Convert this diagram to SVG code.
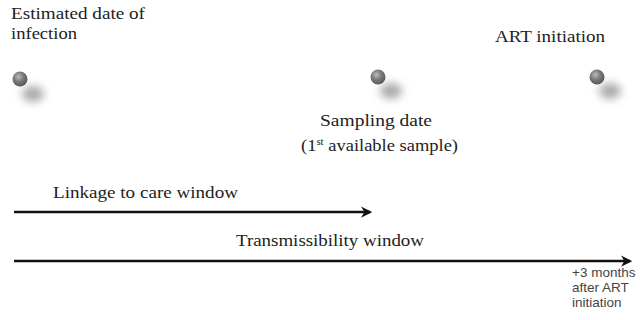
<svg xmlns="http://www.w3.org/2000/svg" width="642" height="320" viewBox="0 0 642 320">
<style>
.t{font-family:"Liberation Serif","DejaVu Serif",serif;font-size:17px;fill:#222}
.s{font-family:"Liberation Sans",Arial,sans-serif;font-size:13.5px;fill:#444}
.ax{stroke:#111;stroke-width:2.5;fill:none}
</style>
<defs>
<radialGradient id="bg" cx="0.4" cy="0.35" r="0.7">
<stop offset="0" stop-color="#bbb"/><stop offset="0.5" stop-color="#777"/><stop offset="1" stop-color="#555"/>
</radialGradient>
<filter id="bl" x="-1" y="-1" width="3" height="3"><feGaussianBlur stdDeviation="4.5"/></filter>
<filter id="bl2" x="-0.1" y="-3" width="1.2" height="7"><feGaussianBlur stdDeviation="3"/></filter>
<marker id="ah" viewBox="0 0 10 10" refX="8" refY="5" markerWidth="4.5" markerHeight="4.5" orient="auto" markerUnits="strokeWidth">
<path d="M0,0 L10,5 L0,10 L3,5 Z" fill="#111"/>
</marker>
</defs>
<rect width="642" height="320" fill="#fff"/>
<g id="infection">
<text class="t" x="11" y="19" textLength="134" lengthAdjust="spacingAndGlyphs">Estimated date of</text>
<text class="t" x="11" y="39" textLength="66" lengthAdjust="spacingAndGlyphs">infection</text>
<ellipse cx="33" cy="94" rx="11" ry="8" fill="#aaa" filter="url(#bl)"/>
<circle cx="20" cy="79" r="7.5" fill="url(#bg)"/>
</g>
<g id="sampling">
<ellipse cx="391" cy="91" rx="11" ry="8" fill="#aaa" filter="url(#bl)"/>
<circle cx="378" cy="77" r="7.5" fill="url(#bg)"/>
<text class="t" x="320" y="126" textLength="112" lengthAdjust="spacingAndGlyphs">Sampling date</text>
<text class="t" x="301" y="151" textLength="157" lengthAdjust="spacingAndGlyphs">(1<tspan font-size="10" dy="-6">st</tspan><tspan dy="6"> available sample)</tspan></text>
</g>
<g id="art">
<text class="t" x="495" y="42" textLength="110" lengthAdjust="spacingAndGlyphs">ART initiation</text>
<ellipse cx="610" cy="91" rx="11" ry="8" fill="#aaa" filter="url(#bl)"/>
<circle cx="597" cy="77" r="7.5" fill="url(#bg)"/>
</g>
<g id="connectors">
<line x1="20" y1="230" x2="372" y2="230" stroke="#bbb" stroke-width="6" filter="url(#bl2)"/>
<line x1="14" y1="212" x2="370" y2="212" class="ax" marker-end="url(#ah)"/>
<text class="t" x="53" y="198" textLength="185" lengthAdjust="spacingAndGlyphs">Linkage to care window</text>
<line x1="20" y1="278" x2="560" y2="278" stroke="#ccc" stroke-width="6" filter="url(#bl2)"/>
<line x1="14" y1="261" x2="630" y2="261" class="ax" marker-end="url(#ah)"/>
<text class="t" x="236" y="246" textLength="188" lengthAdjust="spacingAndGlyphs">Transmissibility window</text>
<text class="s" x="572" y="277">+3 months</text>
<text class="s" x="572" y="292">after ART</text>
<text class="s" x="572" y="307">initiation</text>
</g>
</svg>
